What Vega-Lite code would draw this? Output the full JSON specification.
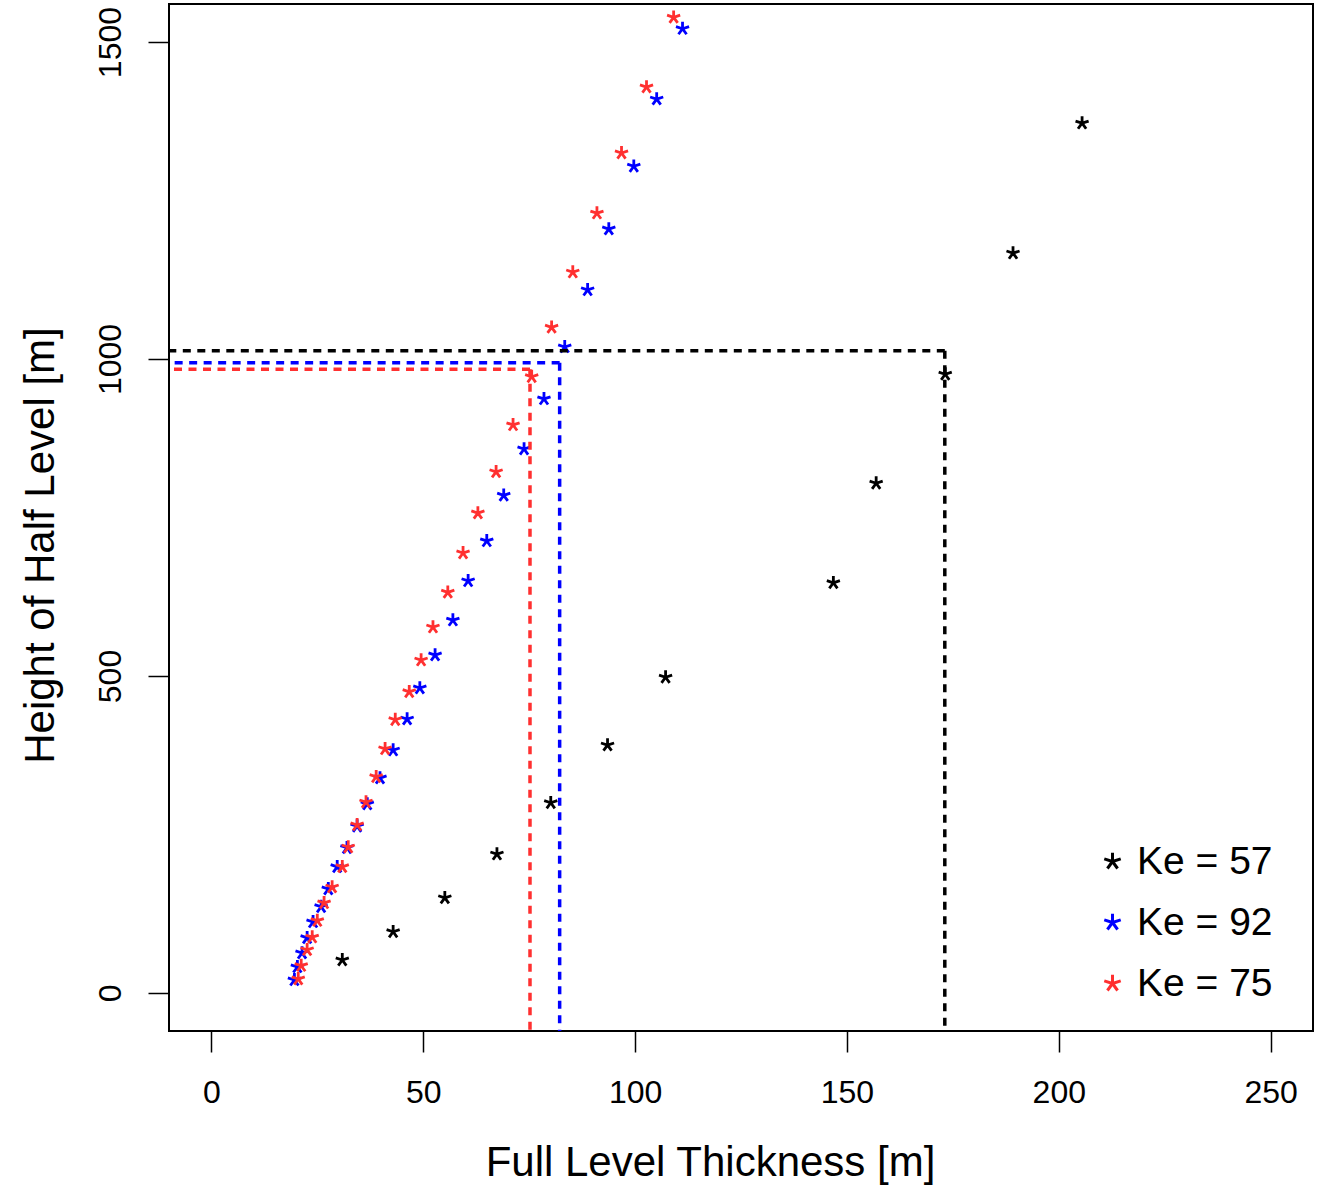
{
  "$schema": "https://vega.github.io/schema/vega-lite/v6.json",
  "width": 1144,
  "height": 1027,
  "autosize": {"type": "none"},
  "padding": {"left": 169, "top": 4, "right": 14, "bottom": 156},
  "background": "white",
  "config": {
    "view": {"stroke": "black", "strokeWidth": 2},
    "font": "Liberation Sans",
    "axis": {"grid": false, "domain": false, "tickColor": "black", "tickWidth": 1.5, "tickSize": 21, "labelColor": "black", "titleColor": "black", "titleFontWeight": "normal", "labelFont": "Liberation Sans", "titleFont": "Liberation Sans"}
  },
  "datasets": {
    "pts": [
      {"series": "Ke = 57", "thickness": 30.9, "height": 52},
      {"series": "Ke = 57", "thickness": 42.9, "height": 96.5},
      {"series": "Ke = 57", "thickness": 55.1, "height": 150},
      {"series": "Ke = 57", "thickness": 67.4, "height": 219},
      {"series": "Ke = 57", "thickness": 80.1, "height": 300},
      {"series": "Ke = 57", "thickness": 93.5, "height": 391},
      {"series": "Ke = 57", "thickness": 107.2, "height": 498},
      {"series": "Ke = 57", "thickness": 146.8, "height": 647},
      {"series": "Ke = 57", "thickness": 156.9, "height": 804},
      {"series": "Ke = 57", "thickness": 173.2, "height": 976},
      {"series": "Ke = 57", "thickness": 189.2, "height": 1167},
      {"series": "Ke = 57", "thickness": 205.5, "height": 1372},
      {"series": "Ke = 92", "thickness": 19.6, "height": 20.5},
      {"series": "Ke = 92", "thickness": 20.3, "height": 41},
      {"series": "Ke = 92", "thickness": 21.4, "height": 63},
      {"series": "Ke = 92", "thickness": 22.6, "height": 87},
      {"series": "Ke = 92", "thickness": 24.0, "height": 112},
      {"series": "Ke = 92", "thickness": 25.9, "height": 136},
      {"series": "Ke = 92", "thickness": 27.6, "height": 164},
      {"series": "Ke = 92", "thickness": 29.7, "height": 199},
      {"series": "Ke = 92", "thickness": 32.0, "height": 229},
      {"series": "Ke = 92", "thickness": 34.4, "height": 263},
      {"series": "Ke = 92", "thickness": 36.8, "height": 298},
      {"series": "Ke = 92", "thickness": 39.8, "height": 339},
      {"series": "Ke = 92", "thickness": 42.9, "height": 383},
      {"series": "Ke = 92", "thickness": 46.2, "height": 432},
      {"series": "Ke = 92", "thickness": 49.2, "height": 481},
      {"series": "Ke = 92", "thickness": 52.8, "height": 533},
      {"series": "Ke = 92", "thickness": 57.0, "height": 588},
      {"series": "Ke = 92", "thickness": 60.6, "height": 650},
      {"series": "Ke = 92", "thickness": 65.0, "height": 713},
      {"series": "Ke = 92", "thickness": 69.0, "height": 785},
      {"series": "Ke = 92", "thickness": 73.8, "height": 858},
      {"series": "Ke = 92", "thickness": 78.5, "height": 937},
      {"series": "Ke = 92", "thickness": 83.4, "height": 1019},
      {"series": "Ke = 92", "thickness": 88.8, "height": 1109},
      {"series": "Ke = 92", "thickness": 93.8, "height": 1205},
      {"series": "Ke = 92", "thickness": 99.7, "height": 1304},
      {"series": "Ke = 92", "thickness": 105.1, "height": 1410},
      {"series": "Ke = 92", "thickness": 111.2, "height": 1521},
      {"series": "Ke = 75", "thickness": 20.5, "height": 22},
      {"series": "Ke = 75", "thickness": 21.2, "height": 43},
      {"series": "Ke = 75", "thickness": 22.6, "height": 68},
      {"series": "Ke = 75", "thickness": 23.8, "height": 88},
      {"series": "Ke = 75", "thickness": 25.0, "height": 114},
      {"series": "Ke = 75", "thickness": 26.6, "height": 142},
      {"series": "Ke = 75", "thickness": 28.5, "height": 167},
      {"series": "Ke = 75", "thickness": 30.9, "height": 199},
      {"series": "Ke = 75", "thickness": 32.3, "height": 230},
      {"series": "Ke = 75", "thickness": 34.4, "height": 265},
      {"series": "Ke = 75", "thickness": 36.5, "height": 301},
      {"series": "Ke = 75", "thickness": 38.9, "height": 341},
      {"series": "Ke = 75", "thickness": 41.0, "height": 385},
      {"series": "Ke = 75", "thickness": 43.4, "height": 431},
      {"series": "Ke = 75", "thickness": 46.7, "height": 475},
      {"series": "Ke = 75", "thickness": 49.5, "height": 525},
      {"series": "Ke = 75", "thickness": 52.3, "height": 577},
      {"series": "Ke = 75", "thickness": 55.8, "height": 632},
      {"series": "Ke = 75", "thickness": 59.4, "height": 694},
      {"series": "Ke = 75", "thickness": 62.9, "height": 757},
      {"series": "Ke = 75", "thickness": 67.2, "height": 822},
      {"series": "Ke = 75", "thickness": 71.2, "height": 896},
      {"series": "Ke = 75", "thickness": 75.6, "height": 972},
      {"series": "Ke = 75", "thickness": 80.3, "height": 1050},
      {"series": "Ke = 75", "thickness": 85.3, "height": 1137},
      {"series": "Ke = 75", "thickness": 91.0, "height": 1230},
      {"series": "Ke = 75", "thickness": 96.8, "height": 1325},
      {"series": "Ke = 75", "thickness": 102.7, "height": 1429},
      {"series": "Ke = 75", "thickness": 109.1, "height": 1539}
    ],
    "refs": [
      {"series": "Ke = 57", "thickness": 173.1, "height": 1013},
      {"series": "Ke = 92", "thickness": 82.2, "height": 994},
      {"series": "Ke = 75", "thickness": 75.2, "height": 984}
    ]
  },
  "layer": [
    {
      "data": {"name": "pts"},
      "mark": {"type": "point", "filled": false, "shape": "M0,0L0,-1M0,0L0.951,-0.309M0,0L0.588,0.809M0,0L-0.588,0.809M0,0L-0.951,-0.309", "size": 190, "strokeWidth": 2.8, "opacity": 1},
      "encoding": {
        "x": {"field": "thickness", "type": "quantitative", "scale": {"domain": [-10, 260], "nice": false, "zero": false}, "axis": {"values": [0, 50, 100, 150, 200, 250], "title": "Full Level Thickness [m]", "labelFontSize": 32, "labelPadding": 25, "titleFontSize": 42, "titleX": 541, "titleY": 144, "titleBaseline": "alphabetic", "titleAlign": "center"}},
        "y": {"field": "height", "type": "quantitative", "scale": {"domain": [-60, 1560], "nice": false, "zero": false}, "axis": {"values": [0, 500, 1000, 1500], "format": "d", "title": "Height of Half Level [m]", "labelFontSize": 32, "labelAngle": 270, "labelAlign": "center", "labelBaseline": "alphabetic", "labelPadding": 28, "titleFontSize": 42, "titleAngle": 270, "titleX": -116, "titleY": 541, "titleBaseline": "alphabetic", "titleAlign": "center"}},
        "color": {"field": "series", "type": "nominal", "scale": {"domain": ["Ke = 57", "Ke = 92", "Ke = 75"], "range": ["#000000", "#0000FF", "#FF3030"]},
          "legend": {"orient": "none", "legendX": 924, "legendY": 838, "title": null, "symbolType": "M0,0L0,-1M0,0L0.951,-0.309M0,0L0.588,0.809M0,0L-0.588,0.809M0,0L-0.951,-0.309", "symbolSize": 300, "symbolStrokeWidth": 3, "labelFontSize": 39, "labelColor": "black", "labelFont": "Liberation Sans", "labelOffset": 5, "rowPadding": 21, "symbolOpacity": 1}}
      }
    },
    {
      "data": {"name": "refs"},
      "mark": {"type": "rule", "strokeDash": [8, 6.5], "strokeWidth": 3.5},
      "encoding": {
        "x": {"field": "thickness", "type": "quantitative"},
        "x2": {"datum": -10},
        "y": {"field": "height", "type": "quantitative"},
        "stroke": {"field": "series", "type": "nominal", "scale": {"domain": ["Ke = 57", "Ke = 92", "Ke = 75"], "range": ["#000000", "#0000FF", "#FF3030"]}, "legend": null}
      }
    },
    {
      "data": {"name": "refs"},
      "mark": {"type": "rule", "strokeDash": [8, 6.5], "strokeWidth": 3.5},
      "encoding": {
        "x": {"field": "thickness", "type": "quantitative"},
        "y": {"field": "height", "type": "quantitative"},
        "y2": {"datum": -60},
        "stroke": {"field": "series", "type": "nominal", "legend": null}
      }
    }
  ]
}
